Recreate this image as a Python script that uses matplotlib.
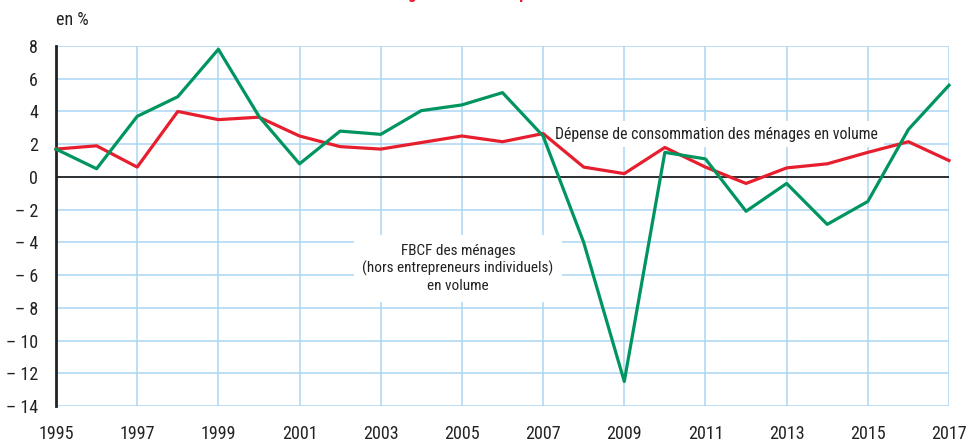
import matplotlib
matplotlib.use("Agg")
import matplotlib.pyplot as plt

years = list(range(1995, 2018))
fbcf = [1.7, 0.5, 3.7, 4.9, 7.8, 3.7, 0.8, 2.8, 2.6, 4.05, 4.4, 5.15, 2.5,
        -4.0, -12.5, 1.5, 1.1, -2.1, -0.4, -2.9, -1.5, 2.9, 5.6]
conso = [1.7, 1.9, 0.6, 4.0, 3.5, 3.65, 2.5, 1.85, 1.7, 2.1, 2.5, 2.15, 2.65,
         0.6, 0.2, 1.8, 0.6, -0.4, 0.55, 0.8, 1.5, 2.15, 1.0]
yticks = list(range(-14, 9, 2))
xticks = list(range(1995, 2018, 2))

plt.rcParams["font.family"] = ["Roboto Condensed", "DejaVu Sans"]

GREEN = "#00955F"
RED = "#E61E2D"
GRID = "#ABD6F2"
INK = "#222222"

fig = plt.figure(figsize=(9.69, 4.43), dpi=100)
ax = fig.add_axes([56 / 969, 1 - 406 / 443, (949 - 56) / 969, (406 - 46) / 443])

ax.set_xlim(1995, 2017)
ax.set_ylim(-14, 8)
ax.set_xticks(xticks)
ax.set_yticks(yticks)
ax.set_yticklabels([str(v) if v >= 0 else "\u2013 " + str(-v) for v in yticks])
ax.tick_params(axis="both", length=0, labelsize=13, colors=INK)
ax.tick_params(axis="x", pad=14)
ax.tick_params(axis="y", pad=13)

ax.grid(True, color=GRID, linewidth=1.1)
ax.set_axisbelow(True)
for s in ["top", "right", "bottom"]:
    ax.spines[s].set_visible(False)
ax.spines["left"].set_linewidth(2)
ax.spines["left"].set_color(INK)
ax.axhline(0, color=INK, linewidth=1.3, zorder=2)

ax.plot(years, conso, color=RED, linewidth=2.3, zorder=4, clip_on=False)
ax.plot(years, fbcf, color=GREEN, linewidth=2.3, zorder=5, clip_on=False)

# labels on white boxes that hide the grid behind them
ax.text(2007.3, 2.6, "Dépense de consommation des ménages en volume",
        fontsize=11.3, color=INK, ha="left", va="center",
        bbox=dict(facecolor="white", edgecolor="none", pad=4), zorder=3)
ax.text(2004.9, -5.6, "FBCF des ménages\n(hors entrepreneurs individuels)\nen volume",
        fontsize=11, color=INK, ha="center", va="center", linespacing=1.28,
        bbox=dict(facecolor="white", edgecolor="none", pad=6), zorder=3)

fig.text(56 / 969, 1 - 20 / 443, "en %", fontsize=13, color=INK, va="center")
# title is cut off at the top of the reference, only descenders show
fig.text(442 / 969, 1 + 1 / 443, "Évolution de la FBCF des ménages et de leur dépense de consommation",
         fontsize=12, fontweight="bold", color=RED, ha="center", va="baseline")

fig.savefig("out.png", dpi=100)
